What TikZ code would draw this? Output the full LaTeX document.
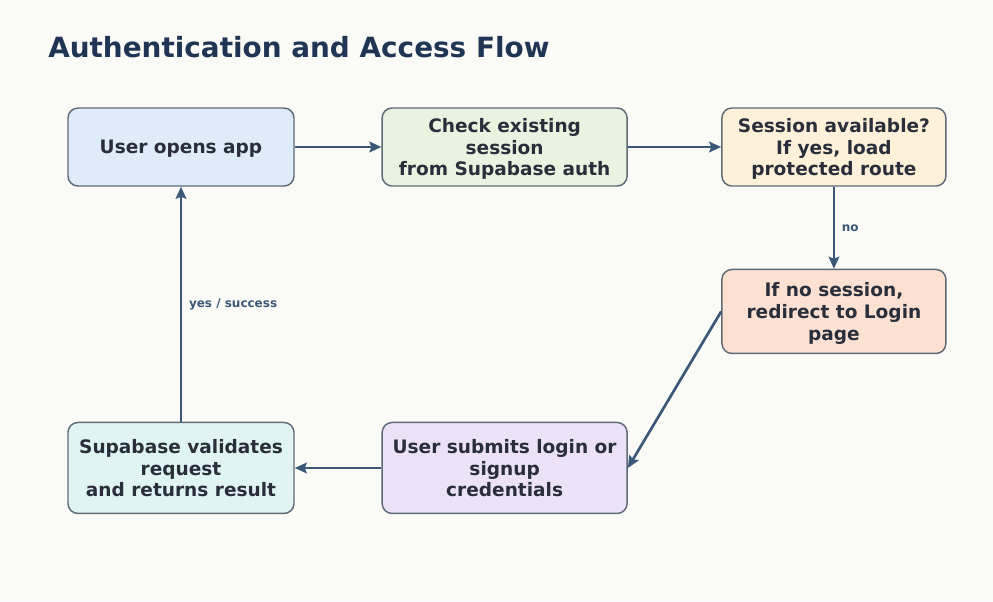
\documentclass[tikz,border=0pt]{standalone}
\usepackage{fontspec}
\setmainfont{DejaVu Sans}
\usepackage{xcolor}
\usetikzlibrary{positioning,arrows.meta}
\definecolor{bgcol}{HTML}{FAFAF7}
\definecolor{titlecol}{HTML}{1F3553}
\definecolor{textcol}{HTML}{2A2E3A}
\definecolor{edgecol}{HTML}{5F6B77}
\definecolor{flowcol}{HTML}{3B5878}
\definecolor{bluefill}{HTML}{DDEBFB}
\definecolor{greenfill}{HTML}{E8F4E0}
\definecolor{creamfill}{HTML}{FDF1DA}
\definecolor{peachfill}{HTML}{FCE1D3}
\definecolor{lilacfill}{HTML}{ECE2F8}
\definecolor{cyanfill}{HTML}{E0F4F3}
\tikzset{
box/.style={
draw=edgecol,
line width=1.1pt,
rounded corners=7.5pt,
minimum height=58.5pt,
align=center,
text=textcol,
text depth=0pt,
font=\fontsize{13.9}{16.2}\selectfont\bfseries
},
flow/.style={
-{Stealth[length=9pt,width=8pt,inset=1.5pt]},
line width=2pt,
draw=flowcol
},
flowlabel/.style={
font=\fontsize{9}{10}\selectfont\bfseries,
text=flowcol,
inner sep=5pt
}
}

\begin{document}
\begin{tikzpicture}[x=0.75pt,y=-0.75pt]
\fill[bgcol] (0,0) rectangle (993,601);
\useasboundingbox (0,0) rectangle (993,601);

\node[anchor=west,text=titlecol,font=\fontsize{20.9}{24}\selectfont\bfseries,inner sep=0pt]
(title) at (48,47) {Authentication and Access Flow};

\node[box,fill=bluefill,minimum width=169.5pt](open) at (181,147) {User opens app};
\node[box,fill=greenfill,minimum width=183.75pt,right=65pt of open](check)
{Check existing\\session\\from Supabase auth};
\node[box,fill=creamfill,minimum width=168pt,right=70pt of check](avail)
{Session available?\\If yes, load\\protected route};
\node[box,fill=peachfill,minimum width=168pt,minimum height=63pt,below=61.5pt of avail](redirect)
{If no session,\\redirect to Login\\page};
\node[box,fill=lilacfill,minimum width=183.75pt,minimum height=68.25pt,below=176.25pt of check](submit)
{User submits login or\\signup\\credentials};
\node[box,fill=cyanfill,minimum width=169.5pt,minimum height=68.25pt,below=176.25pt of open](validate)
{Supabase validates\\request\\and returns result};

\foreach \x/\y in {open/check,check/avail,submit/validate}
\draw[flow](\x)--(\y);

\draw[flow](avail)--node[flowlabel,right]{no}(redirect);
\draw[flow](redirect.west)--(submit.east);
\draw[flow](validate)--node[flowlabel,right]{yes / success}(open);
\end{tikzpicture}
\end{document}
